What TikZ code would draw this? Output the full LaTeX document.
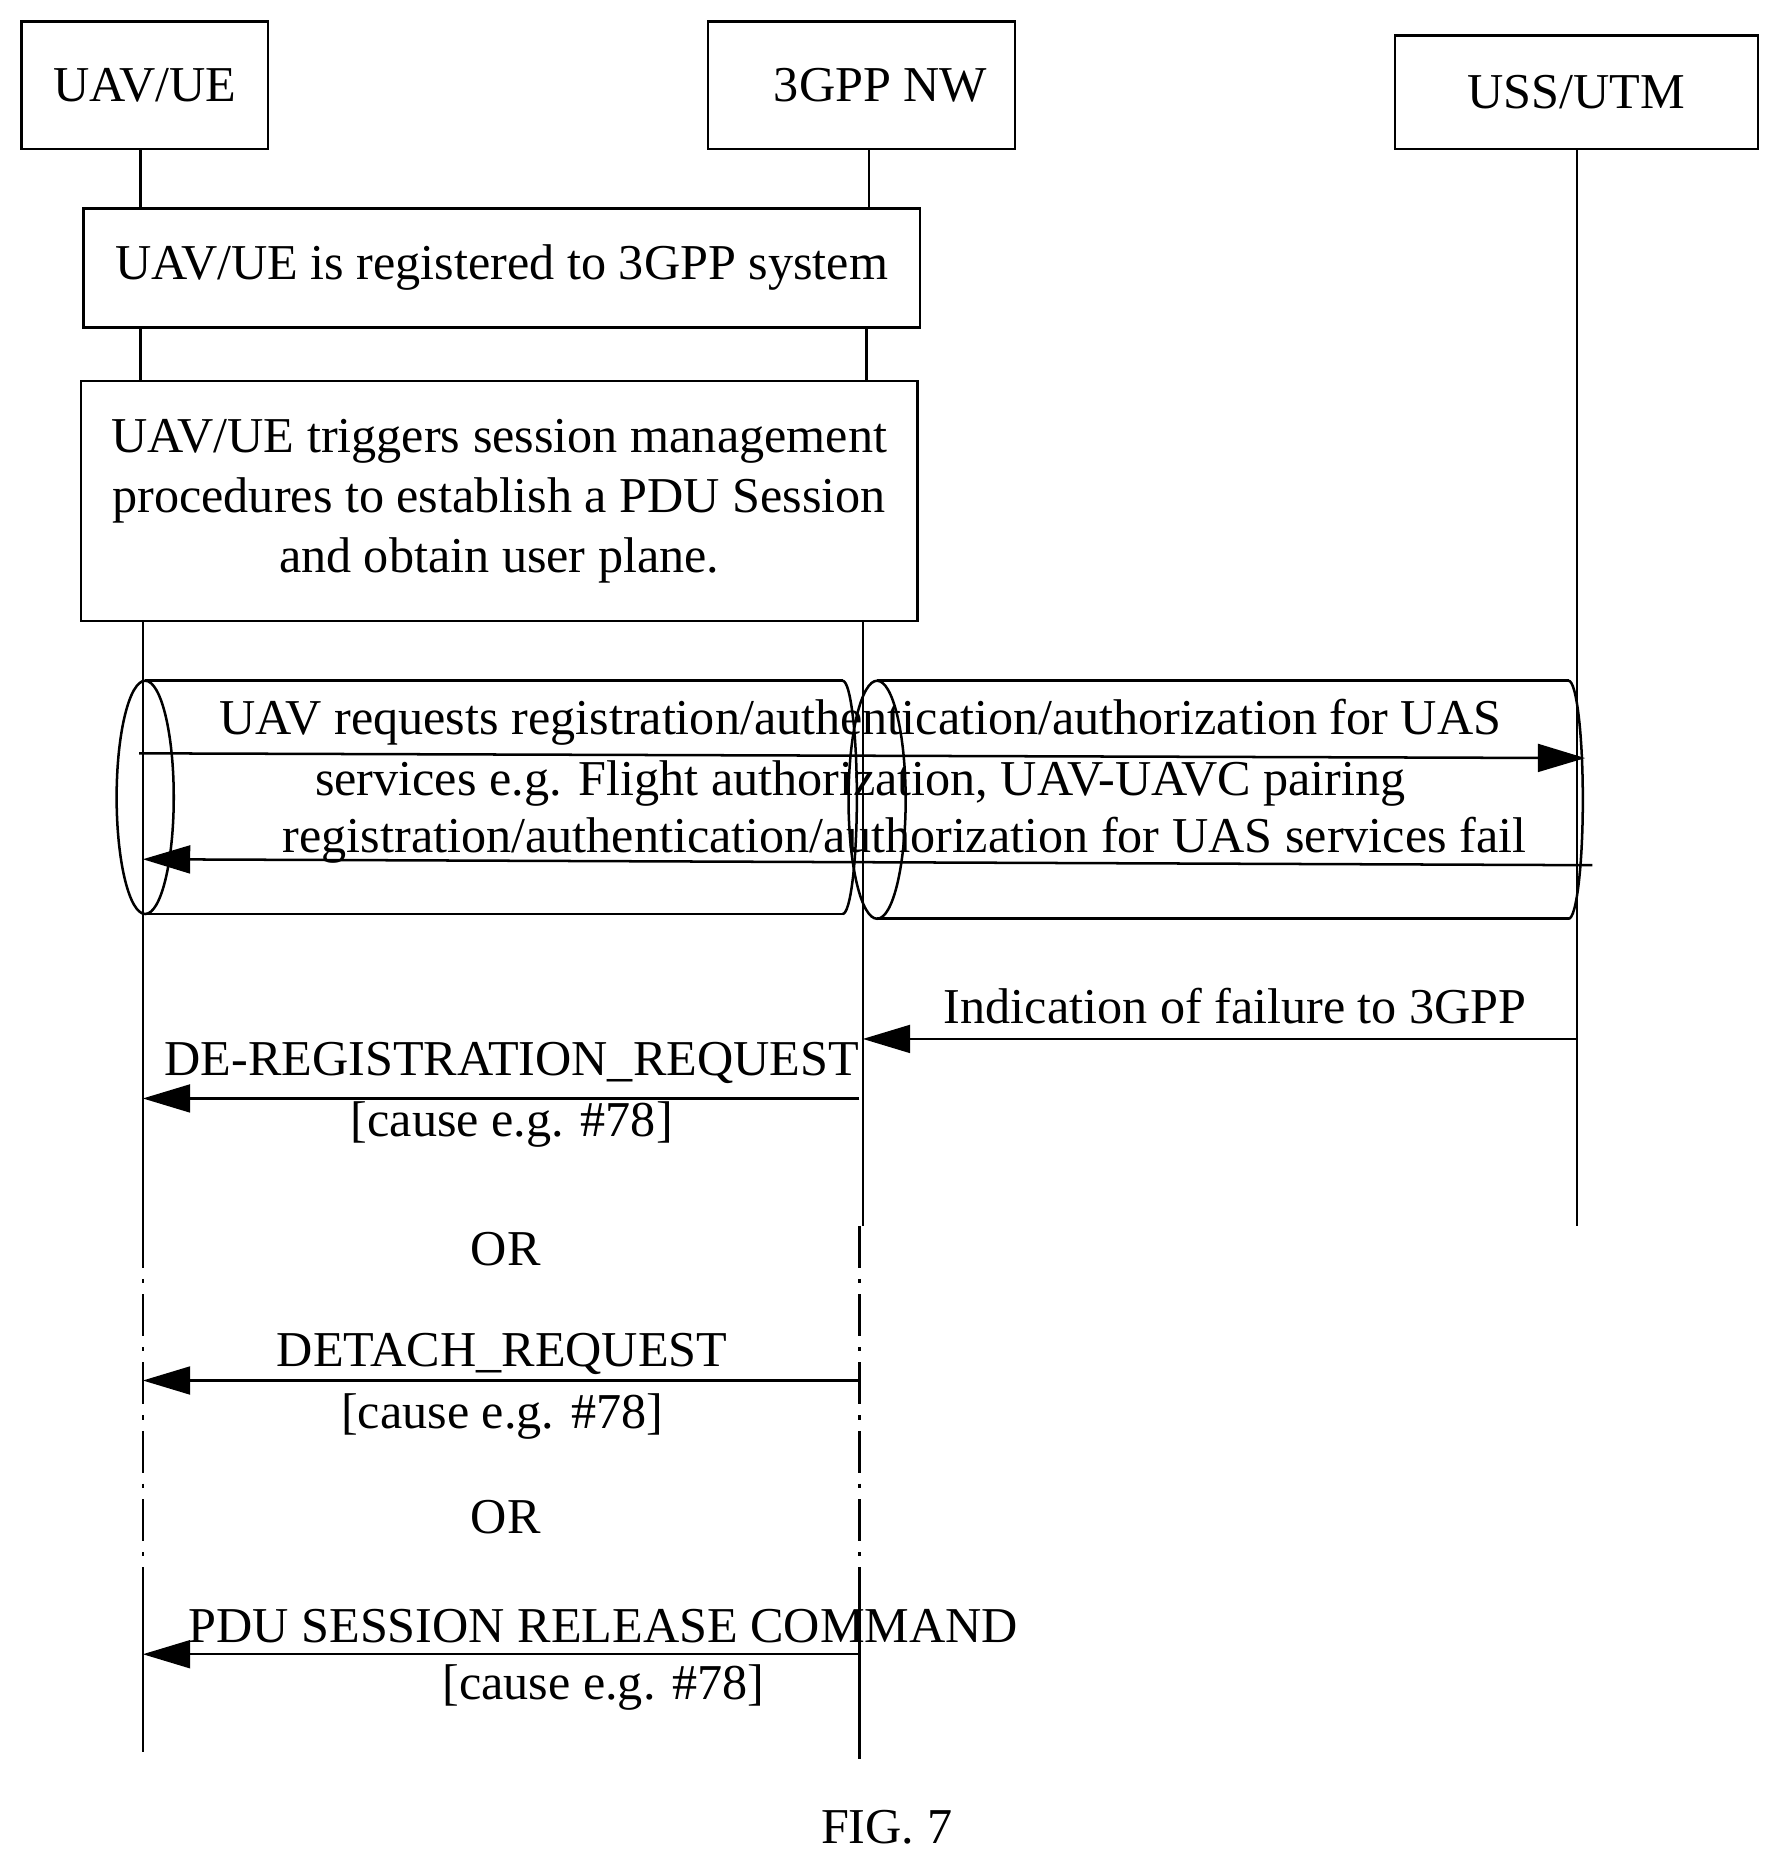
\documentclass[tikz,border=0pt]{standalone}
\usepackage{fontspec}
\setmainfont{Liberation Serif}
\usetikzlibrary{arrows.meta}
\begin{document}
\begin{tikzpicture}[x=0.03cm,y=-0.03cm,line width=1.8pt,
 every node/.style={font=\fontsize{36}{43}\selectfont},
 box/.style={draw,inner sep=0pt},
 lbl/.style={inner sep=0pt},
 msg/.style={-{Triangle[length=34pt,width=20pt]}},
 dd/.style={dash pattern=on 30pt off 8pt on 3pt off 8pt}]
\useasboundingbox (0,0) rectangle (1500,1573);
% actors
\node[box,minimum width=207*0.03cm,minimum height=107*0.03cm] (uav) at (121.5,71.5) {UAV/UE};
\node[box,minimum width=258*0.03cm,minimum height=107*0.03cm] (nw) at (724,71.5) {};
\node[lbl] at (740,72) {3GPP NW};
\node[box,minimum width=305*0.03cm,minimum height=95*0.03cm] (uss) at (1324.5,77.5) {USS/UTM};
% boxes
\node[box,minimum width=703*0.03cm,minimum height=100*0.03cm] (b1) at (421.5,225) {UAV/UE is registered to 3GPP system};
\node[box,minimum width=703*0.03cm,minimum height=202*0.03cm,align=center] (b2) at (419.5,421) {UAV/UE triggers session management\\procedures to establish a PDU Session\\and obtain user plane.};
% lifelines
\draw (118,125) -- (118,175) (730,125) -- (730,175);
\draw (118,275) -- (118,320) (728,275) -- (728,320);
\draw (120,522) -- (120,1030) (725,522) -- (725,1030);
\draw (1325,125) -- (1325,1030);
\draw[dd] (120,1030) -- (120,1330) (722,1030) -- (722,1330);
\draw (120,1330) -- (120,1472) (722,1330) -- (722,1478);
% cylinders
\draw (122,572) -- (708,572) (122,768) -- (708,768);
\draw (122,670) ellipse [x radius=24, y radius=98];
\draw (708,572) arc[start angle=-90,end angle=90,x radius=12,y radius=98];
\draw (737,572) -- (1318,572) (737,772) -- (1318,772);
\draw (737,672) ellipse [x radius=24, y radius=100];
\draw (1318,572) arc[start angle=-90,end angle=90,x radius=12,y radius=100];
% messages
\coordinate (a1) at (117,633); \coordinate (a2) at (1332,637);
\draw[msg] (a1) -- (a2);
\coordinate (r1) at (1338,727); \coordinate (r2) at (120,722);
\draw[msg] (r1) -- (r2);
\node[lbl] at (723,607) {UAV requests registration/authentication/authorization for UAS};
\node[lbl] at (723,658) {services e.g. Flight authorization, UAV-UAVC pairing};
\node[lbl] at (760,706) {registration/authentication/authorization for UAS services fail};
\coordinate (i1) at (1325,873); \coordinate (i2) at (725,873);
\draw[msg] (i1) -- (i2);
\node[lbl] at (1038,845) {Indication of failure to 3GPP};
\coordinate (d1) at (722,923); \coordinate (d2) at (120,923);
\draw[msg] (d1) -- (d2);
\node[lbl] at (430,893) {DE-REGISTRATION\_REQUEST};
\node[lbl] at (430,945) {[cause e.g. \#78]};
\node[lbl] at (425,1050) {OR};
\coordinate (e1) at (722,1160); \coordinate (e2) at (120,1160);
\draw[msg] (e1) -- (e2);
\node[lbl] at (422,1138) {DETACH\_REQUEST};
\node[lbl] at (422,1190) {[cause e.g. \#78]};
\node[lbl] at (425,1275) {OR};
\coordinate (p1) at (722,1390); \coordinate (p2) at (120,1390);
\draw[msg] (p1) -- (p2);
\node[lbl] at (507,1366) {PDU SESSION RELEASE COMMAND};
\node[lbl] at (507,1418) {[cause e.g. \#78]};
\node[lbl] at (745,1535) {FIG. 7};
\end{tikzpicture}
\end{document}
